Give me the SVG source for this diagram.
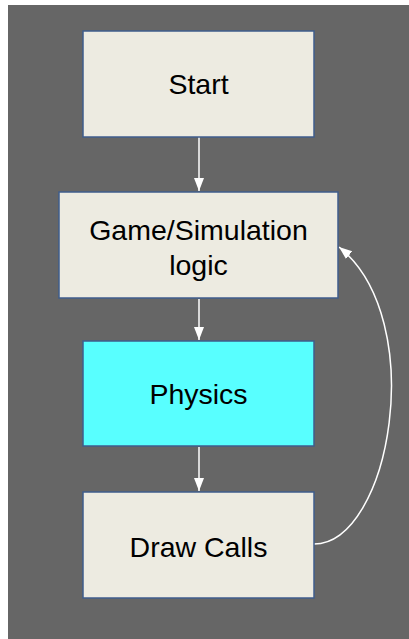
<svg xmlns="http://www.w3.org/2000/svg" width="409" height="639" viewBox="0 0 409 639">
<style>
.box{fill:#edebe1;stroke:#3f5d8c;stroke-width:1.5}
.cyan{fill:#58ffff}
.t{font-family:"Liberation Sans",Arial,sans-serif;font-size:28.5px;fill:#000;text-anchor:middle}
.c{stroke:#fff;stroke-width:1.5;fill:none}
</style>
<defs>
<marker id="ah" markerWidth="14" markerHeight="12" refX="13" refY="6" orient="auto" markerUnits="userSpaceOnUse">
<path d="M0,1 L13,6 L0,11 z" fill="#fff"/>
</marker>
</defs>
<rect width="409" height="639" fill="#fff"/>
<rect x="8" y="5" width="401" height="634" fill="#666"/>
<g id="connectors">
<line class="c" x1="199" y1="137" x2="199" y2="191" marker-end="url(#ah)"/>
<line class="c" x1="199" y1="299" x2="199" y2="340" marker-end="url(#ah)"/>
<line class="c" x1="199" y1="447" x2="199" y2="491" marker-end="url(#ah)"/>
<path class="c" d="M314,544 C390,544 430,320 339,247" marker-end="url(#ah)"/>
</g>
<g id="start">
<rect class="box" x="83" y="31" width="231" height="106"/>
<text class="t" x="198.5" y="94">Start</text>
</g>
<g id="game">
<rect class="box" x="59" y="192" width="279" height="106"/>
<text class="t" x="198.5" y="240">Game/Simulation</text>
<text class="t" x="198.5" y="275">logic</text>
</g>
<g id="physics">
<rect class="box cyan" x="83" y="341" width="231" height="105"/>
<text class="t" x="198.5" y="404">Physics</text>
</g>
<g id="draw">
<rect class="box" x="83" y="492" width="231" height="106"/>
<text class="t" x="198.5" y="557">Draw Calls</text>
</g>
</svg>
